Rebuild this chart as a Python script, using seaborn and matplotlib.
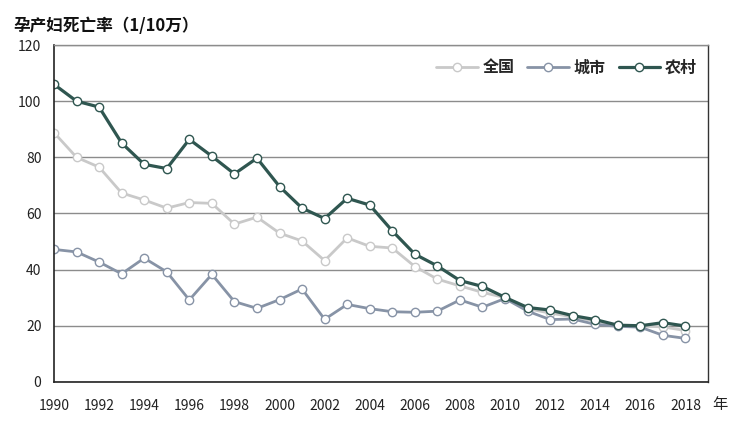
import matplotlib
matplotlib.use("Agg")
import matplotlib.pyplot as plt
import seaborn as sns
import pandas as pd

years = list(range(1990, 2019))
national = [88.8, 80.0, 76.5, 67.3, 64.8, 61.9, 63.9, 63.6, 56.2, 58.7,
            53.0, 50.2, 43.2, 51.3, 48.3, 47.7, 41.1, 36.6, 34.2, 31.9,
            30.0, 26.1, 24.5, 23.2, 21.7, 20.1, 19.9, 19.6, 18.3]
urban = [47.2, 46.3, 42.7, 38.5, 44.1, 39.2, 29.2, 38.3, 28.6, 26.2,
         29.3, 33.1, 22.3, 27.6, 26.1, 25.0, 24.8, 25.2, 29.2, 26.6,
         29.7, 25.2, 22.2, 22.4, 20.5, 19.8, 19.5, 16.6, 15.5]
rural = [106.0, 100.0, 97.9, 85.1, 77.5, 76.0, 86.4, 80.4, 74.1, 79.7,
         69.6, 61.9, 58.2, 65.4, 63.0, 53.8, 45.5, 41.3, 36.1, 34.0,
         30.1, 26.5, 25.6, 23.6, 22.2, 20.2, 20.0, 21.1, 19.9]
series_names = ["全国", "城市", "农村"]
colors = ["#c9c9c9", "#8793a6", "#2f5650"]
yticks = [0, 20, 40, 60, 80, 100, 120]
xticks = list(range(1990, 2019, 2))

sns.set_style("white")
plt.rcParams['font.family'] = ['Noto Sans CJK SC', 'DejaVu Sans']

fig = plt.figure(figsize=(7.5, 4.33), dpi=100)
ax = fig.add_axes([0.072, 0.118, 0.872, 0.778])

for name, vals, col, lw in zip(series_names, [national, urban, rural], colors, [2.0, 2.0, 2.3]):
    df = pd.DataFrame({"year": years, "value": vals})
    sns.lineplot(data=df, x="year", y="value", ax=ax, color=col, linewidth=lw,
                 marker="o", markersize=6, markerfacecolor="white",
                 markeredgecolor=col, markeredgewidth=1.0, label=name)

ax.set_xlim(1990, 2019)
ax.set_ylim(0, 120)
ax.set_xticks(xticks)
ax.set_xticklabels([str(x) for x in xticks], fontsize=10, color="#222222")
ax.set_yticks(yticks)
ax.set_yticklabels([str(y) for y in yticks], fontsize=10, color="#222222")
ax.tick_params(axis="both", direction="in", length=4, width=0.8, colors="#333333",
               labelcolor="#222222")
ax.tick_params(axis="x", pad=12)
ax.tick_params(axis="y", pad=9)
ax.set_xlabel("")
ax.set_ylabel("")
ax.yaxis.grid(True, color="#8c8c8c", linewidth=1.0)
ax.set_axisbelow(True)
for s in ["left", "bottom"]:
    ax.spines[s].set_color("#222222")
    ax.spines[s].set_linewidth(1.2)
ax.spines["right"].set_color("#333333")
ax.spines["right"].set_linewidth(1.0)
ax.spines["top"].set_color("#8c8c8c")
ax.spines["top"].set_linewidth(1.0)

leg = ax.legend(loc="upper right", ncol=3, frameon=False,
                handlelength=2.6, columnspacing=0.8, handletextpad=0.3,
                bbox_to_anchor=(1.005, 1.0), prop={"weight": "bold", "size": 11.5})

fig.text(0.018, 0.92, "孕产妇死亡率（1/10万）", fontsize=12, fontweight="bold",
         color="#111111", ha="left", va="bottom")
fig.text(0.95, 0.065, "年", fontsize=11, color="#222222", ha="left", va="center")

fig.savefig("out.png", dpi=100)
